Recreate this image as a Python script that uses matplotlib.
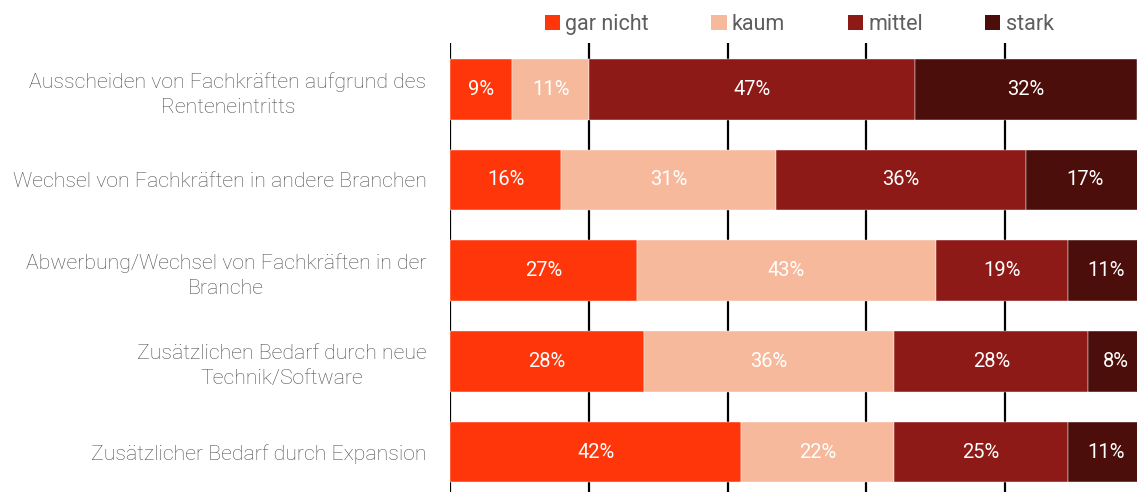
import matplotlib.pyplot as plt
from matplotlib.patches import Patch

# === DATA ===
categories = [
    "Ausscheiden von Fachkräften aufgrund des\nRenteneintritts",
    "Wechsel von Fachkräften in andere Branchen",
    "Abwerbung/Wechsel von Fachkräften in der\nBranche",
    "Zusätzlichen Bedarf durch neue\nTechnik/Software",
    "Zusätzlicher Bedarf durch Expansion",
]
series_names = ["gar nicht", "kaum", "mittel", "stark"]
gar_nicht = [9, 16, 27, 28, 42]
kaum = [11, 31, 43, 36, 22]
mittel = [47, 36, 19, 28, 25]
stark = [32, 17, 11, 8, 11]

colors = ["#FF360A", "#F7B99B", "#8E1A17", "#4B0E0A"]
text_gray = "#4f4f4f"

plt.rcParams["font.family"] = ["Roboto", "DejaVu Sans"]

fig = plt.figure(figsize=(11.37, 4.92), dpi=100)
ax = fig.add_axes([450 / 1137, 0, 687 / 1137, 449 / 492])

rows = list(range(len(categories)))
left = [0] * len(categories)
for name, vals, col in zip(series_names, [gar_nicht, kaum, mittel, stark], colors):
    bars = ax.barh(rows, vals, left=left, height=0.67, color=col,
                   edgecolor="#ffffff", linewidth=0.3, zorder=3, label=name)
    for b, v in zip(bars, vals):
        ax.text(b.get_x() + b.get_width() / 2, b.get_y() + b.get_height() / 2,
                f"{v}%", ha="center", va="center", color="white",
                fontsize=14.5, zorder=4)
    left = [l + v for l, v in zip(left, vals)]

ax.set_xlim(0, 99)
ax.set_ylim(4.44, -0.51)
for x in [0, 20, 40, 60, 80]:
    ax.axvline(x, color="black", linewidth=1.6, zorder=1)

ax.set_yticks(rows)
ax.set_yticklabels(categories, fontsize=15.3, color=text_gray,
                   fontweight="light", multialignment="center",
                   linespacing=1.4)
ax.tick_params(axis="y", length=0, pad=17)
ax.set_xticks([])
for s in ax.spines.values():
    s.set_visible(False)

handles = [Patch(facecolor=c, edgecolor="none") for c in colors]
leg = fig.legend(handles, series_names, loc="center", bbox_to_anchor=(0.703, 0.951),
                 ncol=4, frameon=False, fontsize=15.5, handlelength=0.7,
                 handleheight=0.7, handletextpad=0.25, columnspacing=2.9)
for t in leg.get_texts():
    t.set_color("#5e5e5e")

fig.savefig("out.png", dpi=100)
